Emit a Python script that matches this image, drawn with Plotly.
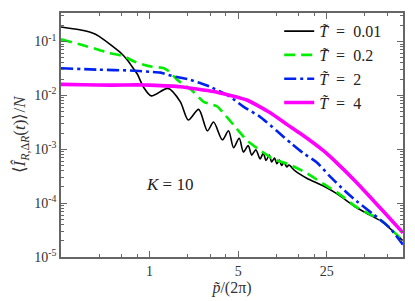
import plotly.graph_objects as go

# ---- data ----
x_t001 = [0.2, 0.28, 0.35, 0.4, 0.5, 0.6, 0.67, 0.75, 0.8, 0.9, 1.03, 1.4, 1.75, 2.02, 2.44, 2.86, 3.2,
          3.75, 4.2, 4.6, 5.1, 5.5, 6.0, 6.4, 6.9, 7.45, 7.9, 8.3, 8.8, 9.2, 9.7, 10.1, 10.6, 11.0, 11.5,
          12.1, 12.6, 14.0, 17.4, 23.4, 30.0, 42.8, 55.0, 69.3, 100.0]
y_t001 = [0.186, 0.165, 0.145, 0.125, 0.085, 0.06, 0.045, 0.031, 0.025, 0.014, 0.0098, 0.0135, 0.0076,
          0.0035, 0.0055, 0.0022, 0.0032, 0.0015, 0.0022, 0.00107, 0.0016, 0.00089, 0.00117, 0.00078,
          0.00098, 0.00066, 0.00085, 0.00062, 0.00078, 0.00058, 0.00069, 0.00054, 0.00063, 0.0005, 0.00057,
          0.00047, 0.00051, 0.0004, 0.00029, 0.00021, 0.00015, 0.000083, 0.00006, 0.000044, 0.00002]

x_t02 = [0.2, 0.29, 0.4, 0.47, 0.63, 0.75, 0.9, 1.05, 1.3, 1.45, 1.65, 2.15, 2.67, 3.1, 3.4, 3.83, 4.74,
         5.86, 7.45, 9.47, 12.5, 17.4, 23.4, 30.0, 42.8, 55.0, 69.3, 100.0]
y_t02 = [0.11, 0.087, 0.07, 0.062, 0.053, 0.043, 0.037, 0.034, 0.032, 0.027, 0.0195, 0.0125, 0.0076,
         0.0068, 0.0063, 0.0047, 0.0026, 0.00147, 0.00096, 0.00066, 0.00053, 0.00036, 0.00023, 0.00016,
         0.000085, 0.000062, 0.000045, 0.00002]

x_t2 = [0.2, 0.4, 0.7, 1.0, 1.22, 1.5, 2.0, 2.5, 3.0, 4.3, 5.5, 7.45, 10.07, 13.2, 16.3, 20.7, 26.3, 34.7,
        42.8, 57.9, 78.2, 100.0]
y_t2 = [0.032, 0.030, 0.029, 0.0275, 0.0265, 0.023, 0.02, 0.017, 0.0145, 0.0095, 0.0062, 0.004, 0.0022,
        0.00127, 0.00085, 0.00058, 0.00032, 0.00017, 0.00011, 0.000063, 0.000035, 0.000017]

x_t4 = [0.2, 0.3, 0.5, 0.8, 1.0, 1.75, 3.2, 5.86, 8.9, 12.1, 15.3, 23.4, 30.0, 42.8, 55.0, 69.3, 100.0]
y_t4 = [0.016, 0.0158, 0.0155, 0.0157, 0.0155, 0.0145, 0.0118, 0.0082, 0.0048, 0.0029, 0.0020, 0.00095,
        0.00056, 0.000245, 0.00013, 0.000072, 0.000028]

x_major_ticks = [1, 5, 25]
x_major_labels = ["1", "5", "25"]
x_minor_ticks = [0.4, 0.6, 0.8, 2, 3, 4, 10, 15, 20, 50, 75]
y_major_ticks = [1e-5, 1e-4, 1e-3, 1e-2, 1e-1]
y_major_labels = ["10<sup>-5</sup>", "10<sup>-4</sup>", "10<sup>-3</sup>", "10<sup>-2</sup>", "10<sup>-1</sup>"]
y_minor_ticks = [m * 10.0 ** e for e in range(-5, 0) for m in range(2, 10)]

legend_names = ["<i>T̃</i>&nbsp; = &nbsp;0.01", "<i>T̃</i>&nbsp; = &nbsp;0.2",
                "<i>T̃</i>&nbsp; = &nbsp;2", "<i>T̃</i>&nbsp; = &nbsp;4"]

SERIF = "Liberation Serif, Times New Roman, serif"

fig = go.Figure()
fig.add_trace(go.Scatter(x=x_t001, y=y_t001, mode="lines", name=legend_names[0],
                         line=dict(color="black", width=1.6, shape="spline", smoothing=0.8)))
fig.add_trace(go.Scatter(x=x_t02, y=y_t02, mode="lines", name=legend_names[1],
                         line=dict(color="#00ee00", width=2.6, dash="11px,6px", shape="spline", smoothing=0.6)))
fig.add_trace(go.Scatter(x=x_t2, y=y_t2, mode="lines", name=legend_names[2],
                         line=dict(color="#0022ee", width=2.6, dash="12px,4px,3px,4px", shape="spline", smoothing=0.6)))
fig.add_trace(go.Scatter(x=x_t4, y=y_t4, mode="lines", name=legend_names[3],
                         line=dict(color="#ff00ff", width=3.6, shape="spline", smoothing=0.4)))

fig.add_annotation(x=0.16, y=-3.66, xref="x", yref="y", text="<i>K</i> = 10", showarrow=False,
                   font=dict(family=SERIF, size=17, color="#222"))

axis_common = dict(showgrid=False, zeroline=False, showline=True, linecolor="#666", linewidth=1.5,
                   mirror="ticks", ticks="inside", ticklen=6, tickwidth=1, tickcolor="#666",
                   automargin=False,
                   tickfont=dict(family=SERIF, size=14, color="#333"))

fig.update_xaxes(type="log", range=[-0.699, 2.0], tickmode="array", tickvals=x_major_ticks,
                 ticktext=x_major_labels,
                 minor=dict(tickmode="array", tickvals=x_minor_ticks, ticks="inside", ticklen=3, tickcolor="#666"),
                 title=dict(text="<i>p̃</i>/(2π)", font=dict(family=SERIF, size=16, color="#333"), standoff=0),
                 **axis_common)
fig.update_yaxes(type="log", range=[-5, -0.47], tickmode="array", tickvals=y_major_ticks,
                 ticktext=y_major_labels,
                 minor=dict(tickmode="array", tickvals=y_minor_ticks, ticks="inside", ticklen=3, tickcolor="#666"),
                 title=dict(text="⟨<i>Î</i><sub><i>R</i>,Δ<i>R</i></sub>(<i>t</i>)⟩/<i>N</i>",
                            font=dict(family=SERIF, size=17, color="#333"), standoff=4),
                 **axis_common)

# the page body adds an 8px offset; the figure is sized so the plot area lands where the reference's does
fig.update_layout(
    width=407, height=293,
    margin=dict(l=53, r=12, t=5, b=44),
    paper_bgcolor="white", plot_bgcolor="white",
    showlegend=True,
    legend=dict(x=0.638, y=0.995, xanchor="left", yanchor="top", bgcolor="rgba(0,0,0,0)",
                font=dict(family=SERIF, size=16, color="#222"), itemwidth=30, tracegroupgap=0),
)

fig.write_html("out.html")
